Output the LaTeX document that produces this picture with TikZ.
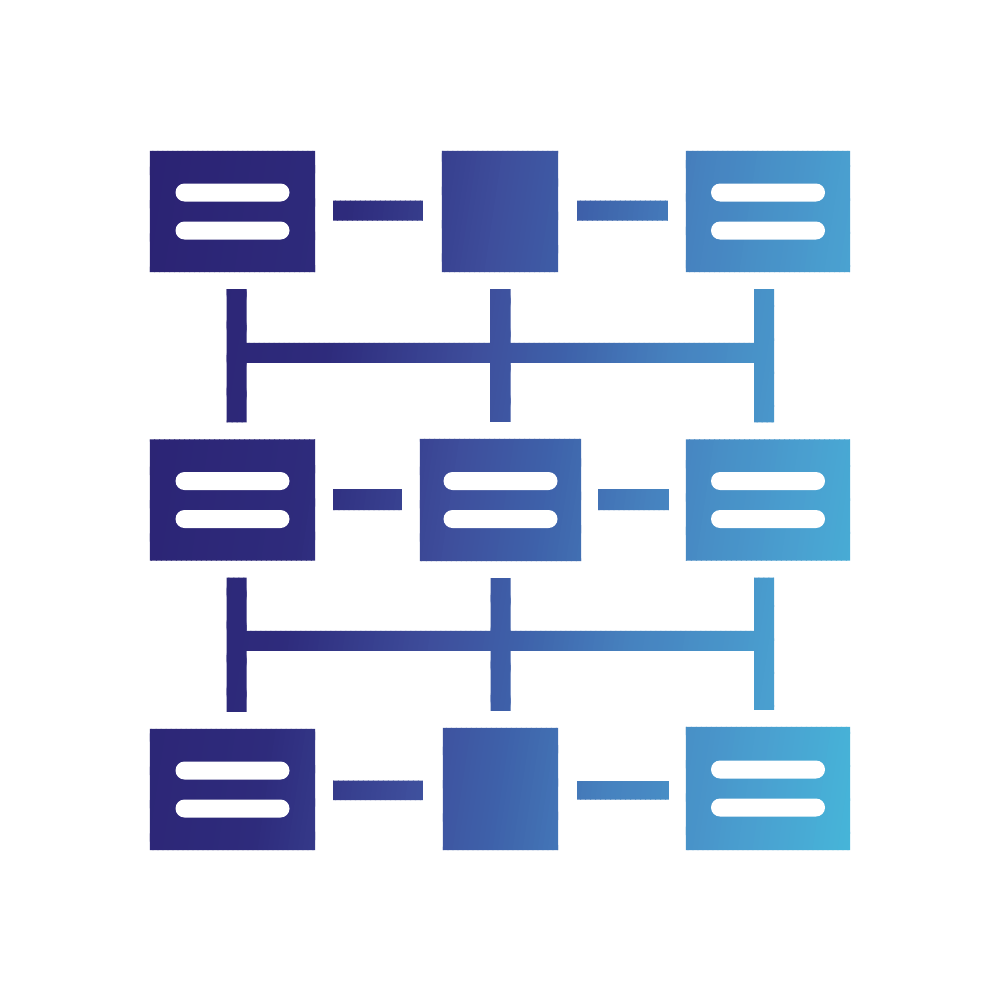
\documentclass[tikz,border=0pt]{standalone}
\usetikzlibrary{calc}
\definecolor{cA}{HTML}{2A2070}
\definecolor{cB}{HTML}{2E2B7C}
\definecolor{cC}{HTML}{3E4E9C}
\definecolor{cD}{HTML}{3E62AA}
\definecolor{cE}{HTML}{4680BE}
\definecolor{cF}{HTML}{4AA0D0}
\definecolor{cG}{HTML}{45BADB}
\tikzset{
  box/.style 2 args={draw=none, inner sep=0pt, outer sep=0pt, minimum width=#1cm, minimum height=#2cm},
  bar/.style={fill=white, rounded corners=0.09cm}
}
\begin{document}
\begin{tikzpicture}[x=0.01cm,y=-0.01cm]
\useasboundingbox[fill=white] (0,0) rectangle (1000,1000);
% boxes (geometry)
\node[box={1.65}{1.21}] (L1) at (232.5,211.5) {};
\node[box={1.16}{1.21}] (M1) at (500,211.5) {};
\node[box={1.64}{1.21}] (R1) at (768,211.5) {};
\node[box={1.65}{1.21}] (L2) at (232.5,500) {};
\node[box={1.61}{1.22}] (M2) at (500.5,500) {};
\node[box={1.64}{1.21}] (R2) at (768,500) {};
\node[box={1.65}{1.21}] (L3) at (232.5,789.5) {};
\node[box={1.15}{1.22}] (M3) at (500.5,789) {};
\node[box={1.64}{1.23}] (R3) at (768,788.5) {};
% helper coordinates for the bus lines
\coordinate (H1) at ($(L1.south)!0.5!(L2.north)$);
\coordinate (H2) at ($(L2.south)!0.5!(L3.north)$);
\coordinate (H1L) at (L1.south|-H1);
\coordinate (H1R) at (R1.south|-H1);
\coordinate (H2L) at (L2.south|-H2);
\coordinate (H2R) at (R2.south|-H2);
\begin{scope}
\clip
  (L1.north west) rectangle (L1.south east)
  (M1.north west) rectangle (M1.south east)
  (R1.north west) rectangle (R1.south east)
  (L2.north west) rectangle (L2.south east)
  (M2.north west) rectangle (M2.south east)
  (R2.north west) rectangle (R2.south east)
  (L3.north west) rectangle (L3.south east)
  (M3.north west) rectangle (M3.south east)
  (R3.north west) rectangle (R3.south east)
  % horizontal links
  ($(L1.east)+(18,-11)$) rectangle ($(M1.west)+(-19,9)$)
  ($(M1.east)+(19,-11)$) rectangle ($(R1.west)+(-18,9)$)
  ($(L2.east)+(18,-11)$) rectangle ($(M2.west)+(-18,10)$)
  ($(M2.east)+(17,-11)$) rectangle ($(R2.west)+(-17,10)$)
  ($(L3.east)+(18,-9)$) rectangle ($(M3.west)+(-20,11)$)
  ($(M3.east)+(19,-8)$) rectangle ($(R3.west)+(-17,11)$)
  % vertical links, group 1
  ($(L1.south)+(-6,17)$) rectangle ($(L2.north)+(14,-17)$)
  ($(M1.south)+(-10,17)$) rectangle ($(M2.north)+(10,-17)$)
  ($(R1.south)+(-14,17)$) rectangle ($(R2.north)+(6,-17)$)
  ($(H1L)+(-6,-13)$) rectangle ($(H1R)+(6,7)$)
  % vertical links, group 2
  ($(L2.south)+(-6,17)$) rectangle ($(L3.north)+(14,-17)$)
  ($(M2.south)+(-10,17)$) rectangle ($(M3.north)+(10,-17)$)
  ($(R2.south)+(-14,17)$) rectangle ($(R3.north)+(6,-17)$)
  ($(H2L)+(-6,-14)$) rectangle ($(H2R)+(6,6)$);
\foreach \ta/\tb/\ca/\cb in {100/380/cA/cB, 380/530/cB/cC, 530/620/cC/cD, 620/720/cD/cE, 720/880/cE/cF, 880/1000/cF/cG}{
  \pgfmathtruncatemacro\n{(\tb-\ta)/5}
  \foreach \i in {1,...,\n}{
    \pgfmathsetmacro\tz{\ta+5*(\i-1)}
    \pgfmathsetmacro\tw{\tz+6}
    \pgfmathsetmacro\p{100*(\i-0.5)/\n}
    \fill[\cb!\p!\ca] (\tz-15,100) -- (\tw-15,100) -- (\tw-135,900) -- (\tz-135,900) -- cycle;
  }
}
\end{scope}
% white text bars
\foreach \b in {L1,R1,L2,M2,R2,L3,R3}{
  \fill[bar] ($(\b.center)+(-57,-28)$) rectangle ($(\b.center)+(57,-10)$);
  \fill[bar] ($(\b.center)+(-57,10)$) rectangle ($(\b.center)+(57,28)$);
}
\end{tikzpicture}
\end{document}
